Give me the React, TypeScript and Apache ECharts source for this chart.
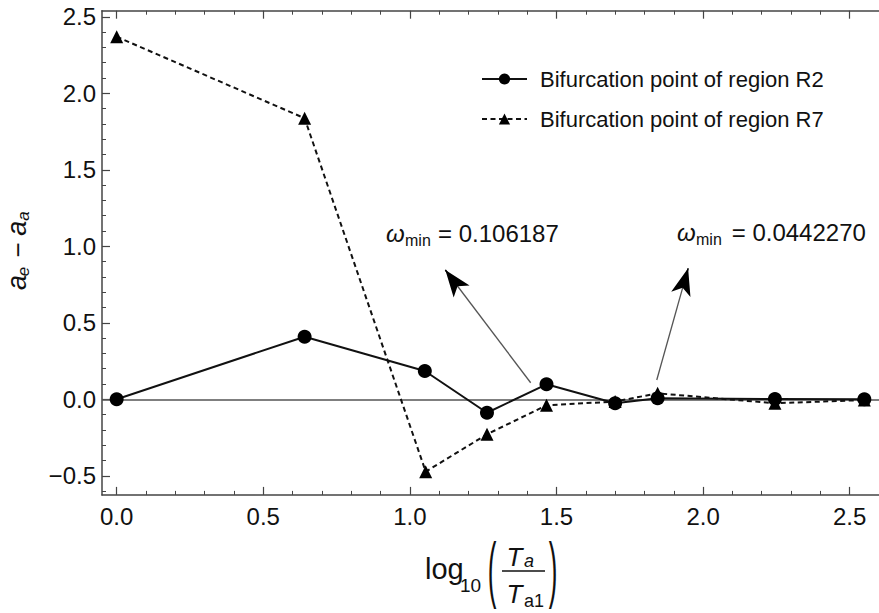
import React, { useEffect, useRef } from 'react';
import * as echarts from 'echarts';

const FONT = "'Liberation Sans', Arial, sans-serif";

// Data
const xR2 = [0, 0.641, 1.051, 1.263, 1.466, 1.7, 1.845, 2.245, 2.55];
const yR2 = [0, 0.409, 0.185, -0.088, 0.098, -0.026, 0.007, 0.002, 0.0];
const xR7 = [0, 0.641, 1.054, 1.263, 1.466, 1.7, 1.845, 2.245, 2.55];
const yR7 = [2.37, 1.837, -0.473, -0.229, -0.039, -0.015, 0.039, -0.026, -0.005];

const nameR2 = 'Bifurcation point of region R2';
const nameR7 = 'Bifurcation point of region R7';

// Annotation arrows (data coordinates): tail -> head
const arrowTail = [
  [1.412, 0.108],
  [1.842, 0.126],
];
const arrowHead = [
  [1.121, 0.845],
  [1.949, 0.856],
];

// Tick values
const xMajor = [0, 0.5, 1.0, 1.5, 2.0, 2.5];
const xMinor = [0.1, 0.2, 0.3, 0.4, 0.6, 0.7, 0.8, 0.9, 1.1, 1.2, 1.3, 1.4, 1.6, 1.7, 1.8, 1.9, 2.1, 2.2, 2.3, 2.4, 2.6];
const yMajor = [-0.5, 0, 0.5, 1.0, 1.5, 2.0, 2.5];
const yMinor = [-0.6, -0.4, -0.3, -0.2, -0.1, 0.1, 0.2, 0.3, 0.4, 0.6, 0.7, 0.8, 0.9, 1.1, 1.2, 1.3, 1.4, 1.6, 1.7, 1.8, 1.9, 2.1, 2.2, 2.3, 2.4];

const X_MIN = -0.05;
const X_MAX = 2.6;
const Y_MIN = -0.625;
const Y_MAX = 2.54;

const fmt = (v: number) => (v < 0 ? '\u2212' + Math.abs(v).toFixed(1) : v.toFixed(1));

const AXIS_COLOR = '#444';
const TEXT_COLOR = '#111';

function App() {
  const ref = useRef<HTMLDivElement>(null);
  useEffect(() => {
    if (!ref.current) return;
    const chart = echarts.init(ref.current, null, { renderer: 'svg' });

    const pairs = (xs: number[], ys: number[]) => xs.map((x, i) => [x, ys[i]]);

    const xBase = {
      type: 'value',
      min: X_MIN,
      max: X_MAX,
      splitLine: { show: false },
      gridIndex: 0,
    };
    const yBase = {
      type: 'value',
      min: Y_MIN,
      max: Y_MAX,
      splitLine: { show: false },
      gridIndex: 0,
    };

    const arrowLines: any[] = [];
    arrowTail.forEach((t, i) => {
      const h = arrowHead[i];
      arrowLines.push([
        { coord: t, symbol: 'none' },
        { coord: h, symbol: 'none', lineStyle: { color: '#555', width: 1.3, type: 'solid' } },
      ]);
      const near = [t[0] + (h[0] - t[0]) * 0.93, t[1] + (h[1] - t[1]) * 0.93];
      arrowLines.push([
        { coord: near, symbol: 'none' },
        { coord: h, symbol: 'arrow', symbolSize: [15, 27], lineStyle: { color: '#000', width: 1.3, type: 'solid' } },
      ]);
    });

    const txt = (x: number, y: number, text: string, size: number, opts: any = {}) => ({
      type: 'text',
      x,
      y,
      silent: true,
      style: {
        text,
        fontSize: size,
        fontFamily: FONT,
        fill: TEXT_COLOR,
        align: opts.align || 'left',
        verticalAlign: 'middle',
        fontStyle: opts.italic ? 'italic' : 'normal',
      },
      scaleX: opts.scaleX ?? 1,
      scaleY: opts.scaleY ?? 1,
    });

    const option: any = {
      animation: false,
      backgroundColor: '#fff',
      grid: { left: 102, top: 10.7, right: -4.7, bottom: 118.1, containLabel: false },
      xAxis: [
        {
          ...xBase,
          position: 'bottom',
          axisLine: { show: true, onZero: false, lineStyle: { color: AXIS_COLOR, width: 1.5 } },
          axisTick: { show: true, inside: true, length: 8, customValues: xMajor, lineStyle: { color: AXIS_COLOR, width: 1.2 } },
          axisLabel: {
            show: true,
            customValues: xMajor,
            formatter: fmt,
            fontSize: 24,
            fontFamily: FONT,
            color: TEXT_COLOR,
            margin: 10,
          },
        },
        {
          ...xBase,
          position: 'bottom',
          axisLine: { show: false, onZero: false },
          axisTick: { show: true, inside: true, length: 4, customValues: xMinor, lineStyle: { color: AXIS_COLOR, width: 1 } },
          axisLabel: { show: false },
        },
        {
          ...xBase,
          position: 'top',
          axisLine: { show: true, onZero: false, lineStyle: { color: AXIS_COLOR, width: 1.5 } },
          axisTick: { show: true, inside: true, length: 8, customValues: xMajor, lineStyle: { color: AXIS_COLOR, width: 1.2 } },
          axisLabel: { show: false },
        },
        {
          ...xBase,
          position: 'top',
          axisLine: { show: false, onZero: false },
          axisTick: { show: true, inside: true, length: 4, customValues: xMinor, lineStyle: { color: AXIS_COLOR, width: 1 } },
          axisLabel: { show: false },
        },
      ],
      yAxis: [
        {
          ...yBase,
          position: 'left',
          axisLine: { show: true, onZero: false, lineStyle: { color: AXIS_COLOR, width: 1.5 } },
          axisTick: { show: true, inside: true, length: 8, customValues: yMajor, lineStyle: { color: AXIS_COLOR, width: 1.2 } },
          axisLabel: {
            show: true,
            customValues: yMajor,
            formatter: fmt,
            fontSize: 24,
            fontFamily: FONT,
            color: TEXT_COLOR,
            margin: 6,
          },
        },
        {
          ...yBase,
          position: 'left',
          axisLine: { show: false, onZero: false },
          axisTick: { show: true, inside: true, length: 4, customValues: yMinor, lineStyle: { color: AXIS_COLOR, width: 1 } },
          axisLabel: { show: false },
        },
      ],
      legend: {
        data: [nameR2, nameR7],
        orient: 'vertical',
        left: 481,
        top: 68,
        padding: 0,
        itemWidth: 45,
        itemHeight: 14,
        itemGap: 18,
        selectedMode: false,
        textStyle: { fontSize: 22, fontFamily: FONT, color: TEXT_COLOR, padding: [0, 0, 0, 8] },
      },
      series: [
        {
          name: nameR7,
          type: 'line',
          xAxisIndex: 0,
          yAxisIndex: 0,
          data: pairs(xR7, yR7),
          symbol: 'triangle',
          symbolSize: 13,
          showSymbol: true,
          color: '#000',
          itemStyle: { color: '#000' },
          lineStyle: { color: '#111', width: 2, type: [5, 3.5] },
          z: 3,
        },
        {
          name: nameR2,
          type: 'line',
          xAxisIndex: 0,
          yAxisIndex: 0,
          data: pairs(xR2, yR2),
          symbol: 'circle',
          symbolSize: 14,
          showSymbol: true,
          color: '#000',
          itemStyle: { color: '#000' },
          lineStyle: { color: '#111', width: 2, type: 'solid' },
          z: 4,
          markLine: {
            silent: true,
            animation: false,
            symbol: ['none', 'none'],
            label: { show: false },
            emphasis: { disabled: true },
            z: 2,
            data: [
              { yAxis: 0, lineStyle: { color: '#555', width: 1.5, type: 'solid' } },
              ...arrowLines,
            ],
          },
        },
      ],
      graphic: [
        // annotation 1
        txt(386, 233, '\u03C9', 24, { italic: true }),
        txt(405, 240.5, 'min', 16),
        txt(438, 233, '= 0.106187', 24),
        // annotation 2
        txt(677, 232, '\u03C9', 24, { italic: true }),
        txt(696, 239.5, 'min', 16),
        txt(731.7, 232, '= 0.0442270', 24),
        // x axis title: log10(Ta / Ta1)
        txt(425, 569, 'log', 29),
        txt(460, 585, '10', 19),
        txt(492, 569, '(', 40, { align: 'center', scaleX: 0.65, scaleY: 1.8 }),
        txt(514.5, 557, 'T', 26, { italic: true, align: 'center' }),
        txt(524, 561.4, 'a', 18, { italic: true }),
        {
          type: 'line',
          silent: true,
          shape: { x1: 502, y1: 571, x2: 545, y2: 571 },
          style: { stroke: TEXT_COLOR, lineWidth: 1.5 },
        },
        txt(514.5, 594, 'T', 26, { italic: true, align: 'center' }),
        txt(524, 601, 'a1', 18, { italic: false }),
        txt(553, 569, ')', 40, { align: 'center', scaleX: 0.65, scaleY: 1.8 }),
        // y axis title: a_e - a_a (rotated)
        {
          type: 'group',
          x: 19,
          y: 250,
          rotation: Math.PI / 2,
          silent: true,
          children: [
            txt(-32.5, -2, 'a', 27, { italic: true, align: 'center' }),
            txt(-21.5, 4.5, 'e', 17, { italic: true, align: 'center' }),
            txt(0, -1, '\u2212', 26, { align: 'center' }),
            txt(21.7, -2, 'a', 27, { italic: true, align: 'center' }),
            txt(34, 4.5, 'a', 17, { italic: true, align: 'center' }),
          ],
        },
      ],
    };

    chart.setOption(option);
    return () => chart.dispose();
  }, []);

  return (
    <div
      ref={ref}
      style={{ position: 'absolute', left: 0, top: 0, width: 879, height: 613, background: '#fff' }}
    />
  );
}

export default App;
